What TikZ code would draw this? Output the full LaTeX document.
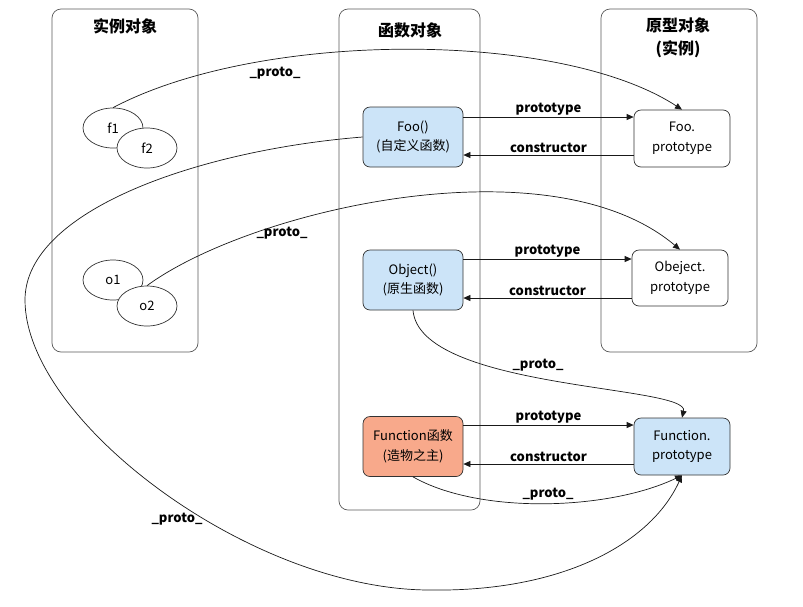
\documentclass[tikz,border=0pt]{standalone}
\usepackage{fontspec}
\setmainfont{Noto Sans CJK SC}
\usetikzlibrary{positioning,shapes.geometric,arrows.meta}
\definecolor{fnblue}{RGB}{204,228,248}
\definecolor{fnred}{RGB}{248,169,139}
\tikzset{
  group/.style={draw=black!65, line width=0.7pt, rounded corners=9pt},
  title/.style={font=\fontsize{16}{23}\selectfont\bfseries, align=center},
  fnbox/.style={draw=black!80, line width=0.7pt, rounded corners=7pt, minimum width=100pt,
    minimum height=60pt, align=center, font=\fontsize{13}{19.5}\selectfont},
  ptbox/.style={fnbox, minimum width=96pt, minimum height=57pt, fill=white},
  inst/.style={draw=black!80, line width=0.7pt, ellipse, minimum width=60pt, minimum height=40pt,
    inner sep=0pt, fill=white, font=\fontsize{13}{14}\selectfont},
  link/.style={draw=black!90, line width=0.7pt, -{Triangle[length=7pt,width=6pt]}},
  lbl/.style={font=\fontsize{13}{14}\selectfont\bfseries, inner sep=1.5pt}
}
\begin{document}
\begin{tikzpicture}[x=1pt,y=-1pt]
  \useasboundingbox (0,0) rectangle (803,606);
  \draw[group] (52,9) rectangle (198,352);
  \draw[group] (339,9) rectangle (480,510);
  \draw[group] (601,9) rectangle (757,352);
  \node[title] (t1) at (125,26) {实例对象};
  \node[title] (t2) at (410,30) {函数对象};
  \node[title] (t3) at (678,38) {原型对象\\(实例)};

  \node[inst] (f1) at (113,128) {f1};
  \node[inst] (f2) at (147,148) {f2};
  \node[inst] (o1) at (113,280) {o1};
  \node[inst] (o2) at (147,306) {o2};

  \node[fnbox, fill=fnblue] (foo) at (413,137) {Foo()\\(自定义函数)};
  \node[fnbox, fill=fnblue] (obj) at (413,280) {Object()\\(原生函数)};
  \node[fnbox, fill=fnred] (fun) at (413,446.5) {Function函数\\(造物之主)};
  \node[ptbox] (foop) at (682,138.5) {Foo.\\prototype};
  \node[ptbox, minimum height=56pt] (objp) at (680,278) {Obeject.\\prototype};
  \node[ptbox, fill=fnblue] (funp) at (682,446.5) {Function.\\prototype};

  \foreach \f/\p/\u/\d in {foo/foop/20/-18, obj/objp/21/-18, fun/funp/21.5/-17.5} {
    \draw[link] ([yshift=\u pt]\f.east) -- ([yshift=\u pt]\f.east -| \p.west)
      node[lbl, midway, above] {prototype};
    \draw[link] ([yshift=\d pt]\f.east -| \p.west) -- ([yshift=\d pt]\f.east)
      node[lbl, midway, above] {constructor};
  }

  \draw[link] (f1.north) .. controls (260,30) and (560,30) .. (foop.north);
  \node[lbl] (p1) at (275,73) {\_proto\_};
  \draw[link] (o2.north) .. controls (250,210) and (550,140) .. (objp.north);
  \node[lbl] (p2) at (282,233) {\_proto\_};
  \draw[link] (obj.south) .. controls (420,390) and (690,385) .. (funp.north);
  \node[lbl] (p3) at (538,365) {\_proto\_};
  \draw[link] (fun.south) .. controls (480,515) and (610,510) .. (funp.south);
  \node[lbl] (p4) at (548,494) {\_proto\_};
  \draw[link] (foo.west) .. controls (200,150) and (25,210) .. (25,300)
    .. controls (25,420) and (250,590) .. (430,590)
    .. controls (560,592) and (650,545) .. (funp.south);
  \node[lbl] (p5) at (177,519) {\_proto\_};
\end{tikzpicture}
\end{document}
